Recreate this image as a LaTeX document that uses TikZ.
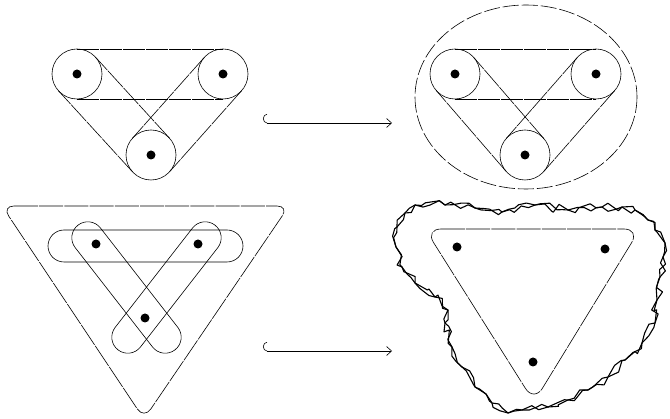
\documentclass[tikz,border=0pt]{standalone}
\usetikzlibrary{calc,arrows.meta,shapes.misc,decorations.pathmorphing}

\begin{document}
\begin{tikzpicture}[
		x=1pt, y=-1pt,
		dot/.style={circle, fill, inner sep=0pt, minimum size=9pt},
		wheel/.style={draw, circle, inner sep=0pt, minimum size=50pt, line width=0.6pt},
		belt/.style={line width=0.6pt, dash pattern=on 22pt off 1pt},
		sling/.style={draw, rounded rectangle, inner sep=0pt, minimum height=32pt, line width=0.6pt},
		hull/.style={line width=0.6pt, dash pattern=on 24pt off 1.2pt},
		ring/.style={line width=0.6pt, dash pattern=on 16pt off 3pt},
		blob/.style={line width=1.1pt, line join=round, decorate, decoration={random steps, segment length=7pt, amplitude=4.5pt}},
		arrow/.style={{Hooks[arc=180, length=4pt, width=18pt, right]}-{Straight Barb[length=5pt, width=9pt]}, line width=0.6pt},
	]
	\useasboundingbox (0,0) rectangle (670,419);

	% top: wheels and belts
	\node[dot] (a1) at (77,74) {};
	\node[dot] (a2) at (223,74) {};
	\node[dot] (a3) at (151,155) {};
	\node[dot] (b1) at (455,74) {};
	\node[dot] (b2) at (596,74) {};
	\node[dot] (b3) at (525,155) {};
	\foreach \p in {a,b} {
		\foreach \i in {1,2,3}
			\node[wheel] (w\p\i) at (\p\i) {};
		\foreach \i/\j in {1/2,2/3,3/1} {
			\draw[belt] ($(\p\i)!25pt!90:(\p\j)$) -- ($(\p\j)!25pt!-90:(\p\i)$);
			\draw[belt] ($(\p\i)!25pt!-90:(\p\j)$) -- ($(\p\j)!25pt!90:(\p\i)$);
		}
	}
	\coordinate (rc) at (526,97);
	\draw[ring] (rc) ellipse [x radius=111, y radius=92];

	% bottom left: slings
	\node[dot] (c1) at (96,244) {};
	\node[dot] (c2) at (198,244) {};
	\node[dot] (c3) at (145,318) {};
	\node[sling, minimum width=195pt] (s1) at (145.5,246) {};
	\node[sling, minimum width=158pt, rotate=-52.1] (s2) at (126.5,287.5) {};
	\node[sling, minimum width=158pt, rotate=52.1] (s3) at (166.5,287.5) {};
	\draw[hull, rounded corners=12pt] (2,206) -- (289,206) -- (144,419) -- cycle;

	% bottom right
	\node[dot] (e1) at (457,247) {};
	\node[dot] (e2) at (605,249) {};
	\node[dot] (e3) at (533,362) {};
	\draw[hull, rounded corners=16pt] (425,229) -- (640,229) -- (534,402) -- cycle;
	\foreach \s in {7,21} {
		\pgfmathsetseed{\s}
		\draw[blob] (405,213) -- (415,205) -- (445,205) -- (475,208) -- (502,212)
			-- (535,205) -- (568,210) -- (602,207) -- (622,207) -- (635,210) -- (648,220) -- (655,230)
			-- (665,243) -- (663,257) -- (660,277) -- (657,300) -- (655,323) -- (642,343) -- (625,360)
			-- (608,377) -- (588,390) -- (568,400) -- (548,407) -- (522,410) -- (508,413) -- (492,403)
			-- (475,387) -- (462,367) -- (452,347) -- (445,323) -- (448,310) -- (435,297) -- (415,283)
			-- (402,267) -- (396,247) -- (397,227) -- cycle;
	}

	% arrows
	\coordinate (t0) at (263,123);
	\coordinate (t1) at (392,123);
	\coordinate (u0) at (263,351);
	\coordinate (u1) at (392,351);
	\draw[arrow] (t0) -- (t1);
	\draw[arrow] (u0) -- (u1);
\end{tikzpicture}
\end{document}
